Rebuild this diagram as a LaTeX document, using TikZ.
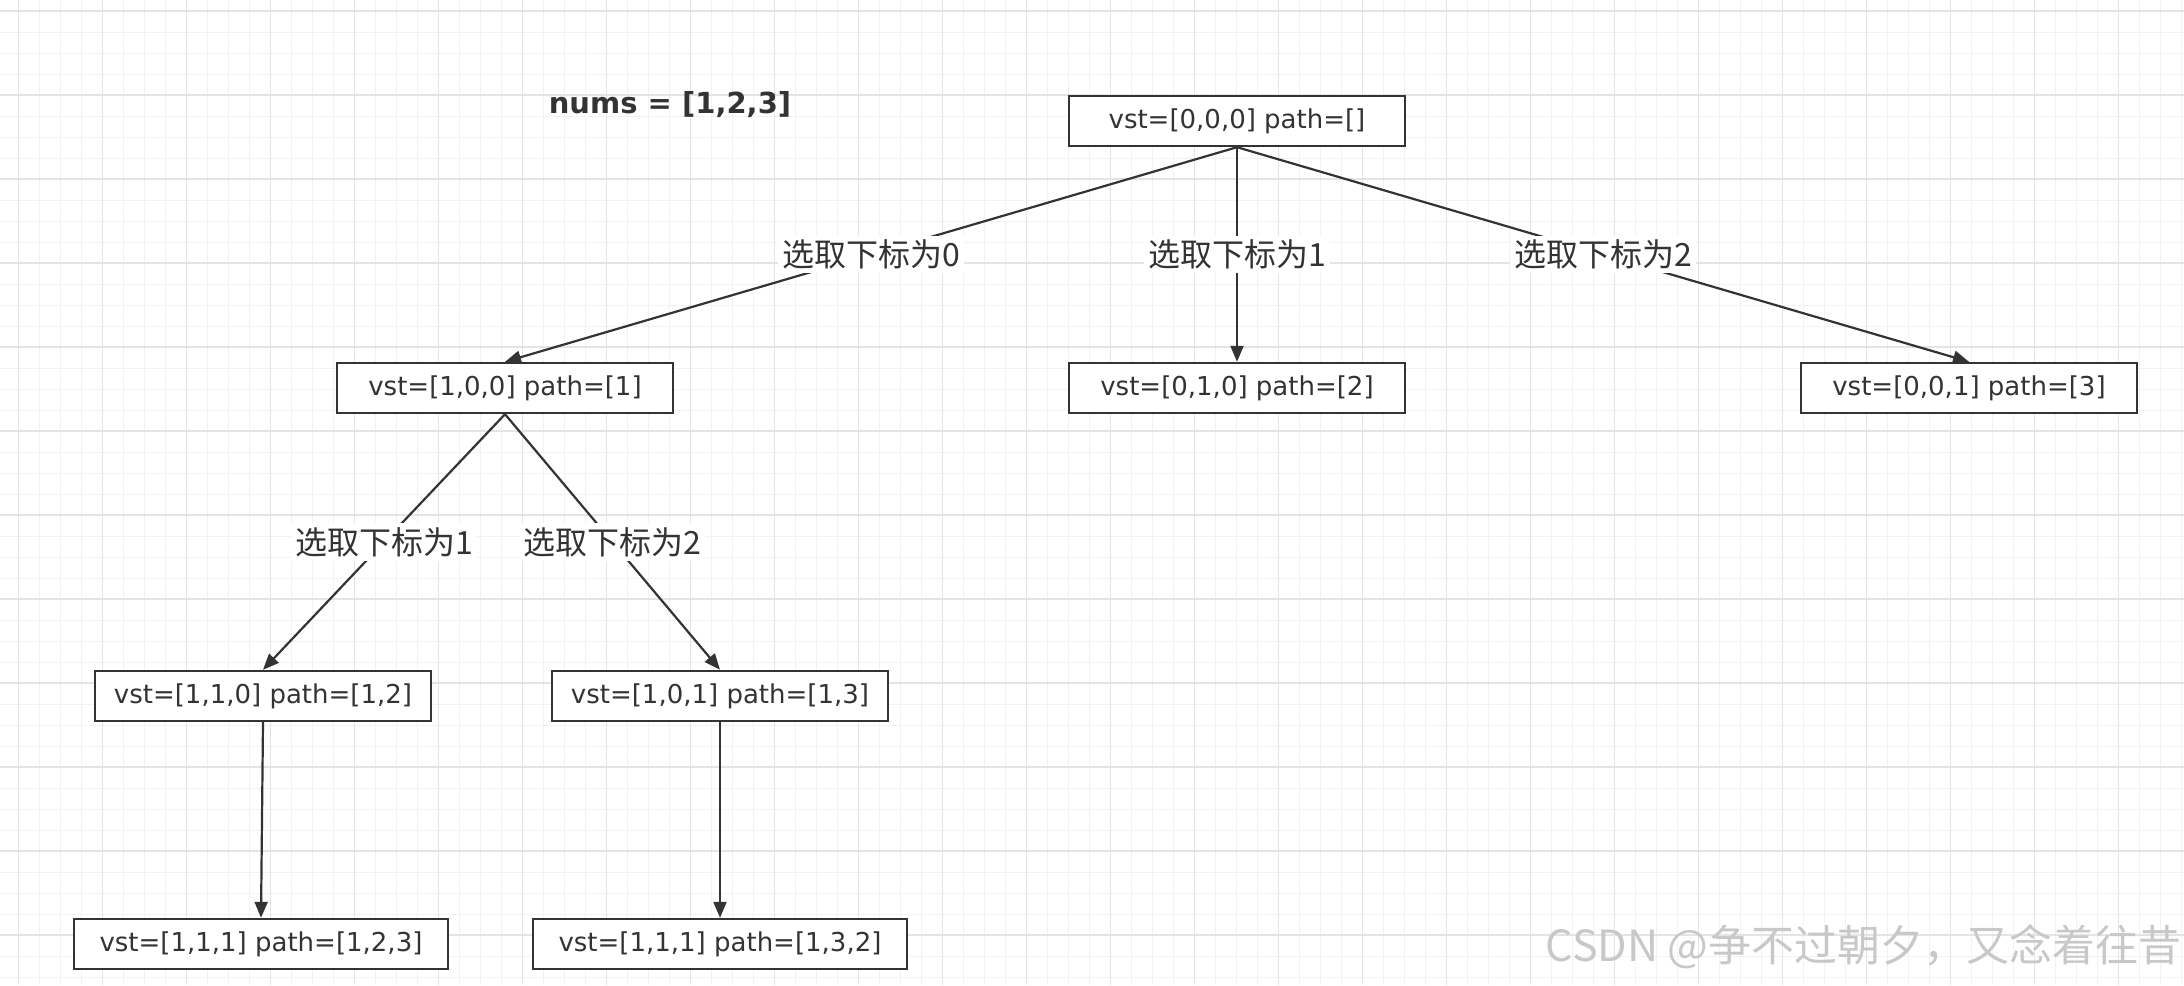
\documentclass[tikz,border=0pt]{standalone}
\usepackage{fontspec}
\setmainfont{DejaVu Sans}
\newfontfamily\cjk{Noto Sans CJK SC}
\usetikzlibrary{arrows.meta}
\definecolor{treeDark}{HTML}{333333}
\definecolor{gridMinor}{HTML}{F2F2F2}
\definecolor{gridMajor}{HTML}{E4E4E4}
\definecolor{markGray}{HTML}{C8C8C8}

\begin{document}
\begin{tikzpicture}[x=0.5pt, y=-0.5pt,
    box/.style={draw=treeDark, line width=1.2pt, fill=white, minimum height=25pt,
      inner sep=0pt, text=treeDark, font=\fontsize{13}{15}\selectfont},
    edge/.style={draw=treeDark, line width=1.1pt, -{Triangle[length=8pt, width=6.5pt]}},
    lbl/.style={fill=white, inner sep=2pt, text=treeDark, font=\cjk\fontsize{16}{18}\selectfont}]
  % grid paper
  \useasboundingbox (0,0) rectangle (2184,985);
  \fill[white] (0,0) rectangle (2184,985);
  \foreach \i in {0,...,103}
    \draw[gridMinor, line width=0.5pt] ({18.3+21*\i},0) -- ++(0,985);
  \foreach \j in {0,...,46}
    \draw[gridMinor, line width=0.5pt] (0,{11+21*\j}) -- ++(2184,0);
  \foreach \i in {0,...,25}
    \draw[gridMajor, line width=0.6pt] ({18.3+84*\i},0) -- ++(0,985);
  \foreach \j in {0,...,11}
    \draw[gridMajor, line width=0.6pt] (0,{11+84*\j}) -- ++(2184,0);

  % input
  \node[font=\bfseries\fontsize{14.5}{17}\selectfont, text=treeDark] (nums) at (670,105)
        {nums = [1,2,3]};

  % states
  \foreach \n/\x/\y/\w/\t in
    {root/1237/121/168/{vst=[0,0,0] path=[]},
     n100/505/388/168/{vst=[1,0,0] path=[1]},
     n010/1237/388/168/{vst=[0,1,0] path=[2]},
     n001/1969/388/168/{vst=[0,0,1] path=[3]},
     n110/263/696/168/{vst=[1,1,0] path=[1,2]},
     n101/720/696/168/{vst=[1,0,1] path=[1,3]},
     n111a/261/944/187/{vst=[1,1,1] path=[1,2,3]},
     n111b/720/944/187/{vst=[1,1,1] path=[1,3,2]}}
  {
    \node[box, minimum width=\w pt] (\n) at (\x,\y) {\t};
  }

  % choices
  \foreach \a/\b/\k in {root/n100/0, root/n010/1, root/n001/2, n100/n110/1, n100/n101/2}
    \draw[edge] (\a.south) -- node[lbl] {选取下标为\k} (\b.north);
  \draw[edge] (n110.south) -- (n111a.north);
  \draw[edge] (n101.south) -- (n111b.north);

  % watermark
  \node[font=\cjk\fontsize{21.5}{24}\selectfont, text=markGray, anchor=east, inner sep=0pt]
        (mark) at (2182,947) {CSDN @争不过朝夕，又念着往昔};
\end{tikzpicture}
\end{document}
